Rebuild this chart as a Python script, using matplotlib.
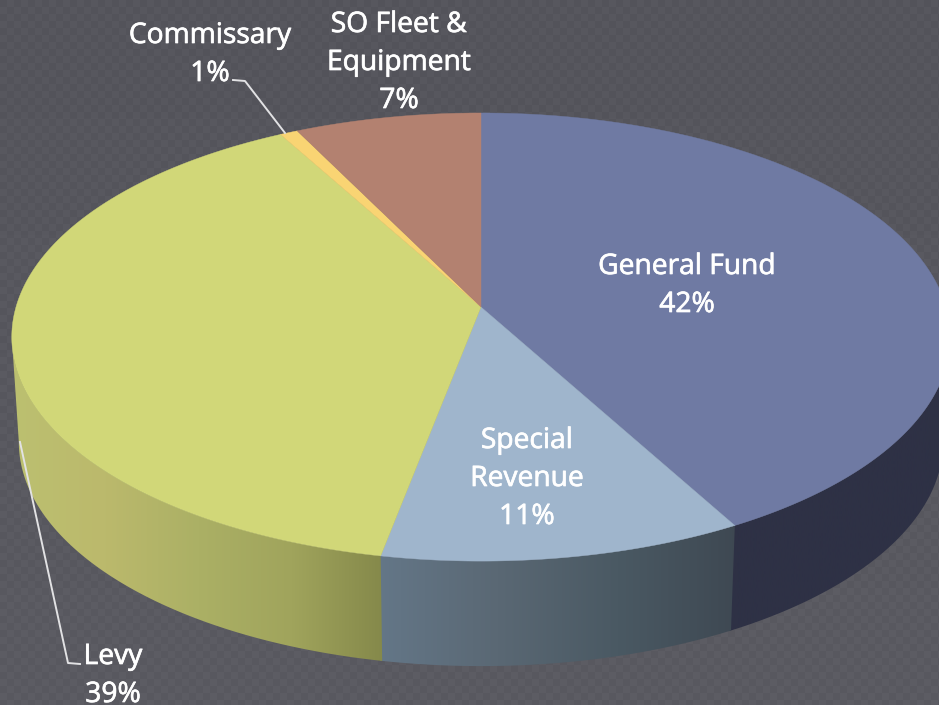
import math

import matplotlib.patheffects as pe
import matplotlib.pyplot as plt
import numpy as np
from matplotlib.colors import LinearSegmentedColormap
from matplotlib.patches import Polygon

# clockwise from 12 o'clock
categories = ["General Fund", "Special Revenue", "Levy", "Commissary", "SO Fleet & Equipment"]
shares = [42.0, 11.0, 39.0, 0.7, 7.3]
percent_labels = ["42%", "11%", "39%", "1%", "7%"]

top_colors = ["#6f7aa3", "#9fb5cc", "#d1d778", "#f9d473", "#b38170"]
wall_stops = [
    ["#2e3145", "#2e3145"],
    ["#647788", "#5a6874", "#4a5963", "#3e4852"],
    ["#bcc070", "#bbb96c", "#abb065", "#a0a45c", "#84884a"],
]

# perspective of the pie disc, in pixels
CX = 481.0
APEX_Y = 307.0
TOP_RX = 465.0
BOTTOM_RX = 458.0
RY = 178.9
TILT = -0.134
DEPTH = 105.0


def top_point(theta):
    u, v = np.sin(theta), -np.cos(theta)
    w = 1.0 + TILT * v
    return CX + TOP_RX * u / w, (APEX_Y + RY * v) / w


def bottom_point(theta):
    u, v = np.sin(theta), -np.cos(theta)
    w = 1.0 + TILT * v
    return CX + BOTTOM_RX * u / w, (APEX_Y + RY * v) / w + DEPTH


def slice_edges():
    cum = np.cumsum([0.0] + shares) / sum(shares)
    return cum * 2.0 * math.pi


def draw_background(ax):
    # faint woven texture over a slightly lightening grey
    h, w = 705, 939
    yy, xx = np.mgrid[0:h, 0:w]
    checker = ((xx // 7 + yy // 7) % 2) * 4.0
    base = 83.0 + 6.0 * yy / h + checker
    img = np.dstack([base, base, base + 7.0]) / 255.0
    ax.imshow(img, extent=(0, w, h, 0), interpolation="nearest", zorder=0, aspect="auto")


def draw_wall(ax, start, end, stops, x_lo, x_hi, zorder):
    thetas = np.linspace(start, end, 200)
    tx, ty = top_point(thetas)
    bx, by = bottom_point(thetas)
    pts = np.column_stack([np.r_[tx, bx[::-1]], np.r_[ty, by[::-1]]])
    patch = Polygon(pts, closed=True, facecolor="none", edgecolor="none")
    ax.add_patch(patch)
    cmap = LinearSegmentedColormap.from_list("wall", stops)
    grad = np.linspace(0, 1, 256).reshape(1, -1)
    im = ax.imshow(grad, cmap=cmap, extent=(x_lo, x_hi, 705, 0), aspect="auto", zorder=zorder)
    im.set_clip_path(patch)


def build_figure():
    fig = plt.figure(figsize=(9.39, 7.05), dpi=100)
    ax = fig.add_axes([0, 0, 1, 1])
    draw_background(ax)

    edges = slice_edges()
    # silhouette of the disc, where the wall stops being visible
    right_end = math.pi / 2.0 + math.asin(0.134)
    left_end = 3.0 * math.pi / 2.0 - math.asin(0.134)
    overlap = 0.004  # hides the seam between neighbouring walls

    draw_wall(ax, right_end, edges[1] + overlap, wall_stops[0], 700, 939, 2.0)
    draw_wall(ax, edges[1], edges[2] + overlap, wall_stops[1], 376, 740, 2.1)
    draw_wall(ax, edges[2], left_end, wall_stops[2], 12, 386, 2.2)

    for i, color in enumerate(top_colors):
        thetas = np.linspace(edges[i], edges[i + 1], 300)
        x, y = top_point(thetas)
        pts = np.column_stack([np.r_[CX, x], np.r_[APEX_Y, y]])
        ax.add_patch(Polygon(pts, closed=True, facecolor=color, edgecolor=color, linewidth=0.3, zorder=3))

    # leader lines
    ax.plot([233, 245, 285], [80, 81, 133], color="#e2e2e4", linewidth=1.4, zorder=4)
    ax.plot([20, 68, 80], [442, 663, 664], color="#e2e2e4", linewidth=1.4, zorder=4)

    # name lines are wrapped by hand to match the original
    text_rows = [
        (687, 274, ["General Fund", percent_labels[0]]),
        (527, 448, ["Special", "Revenue", percent_labels[1]]),
        (113, 664, ["Levy", percent_labels[2]]),
        (210, 43, ["Commissary", percent_labels[3]]),
        (399, 32, ["SO Fleet &", "Equipment", percent_labels[4]]),
    ]
    heavier = [pe.withStroke(linewidth=0.5, foreground="white")]
    for x, y, lines in text_rows:
        for k, line in enumerate(lines):
            ax.text(x, y + 38 * k, line, color="white", fontsize=20.3, family="Open Sans",
                    ha="center", va="baseline", zorder=5, path_effects=heavier)

    ax.set_xlim(0, 939)
    ax.set_ylim(705, 0)
    ax.axis("off")
    return fig


def main():
    fig = build_figure()
    fig.savefig("out.png", dpi=100)


if __name__ == "__main__":
    main()
